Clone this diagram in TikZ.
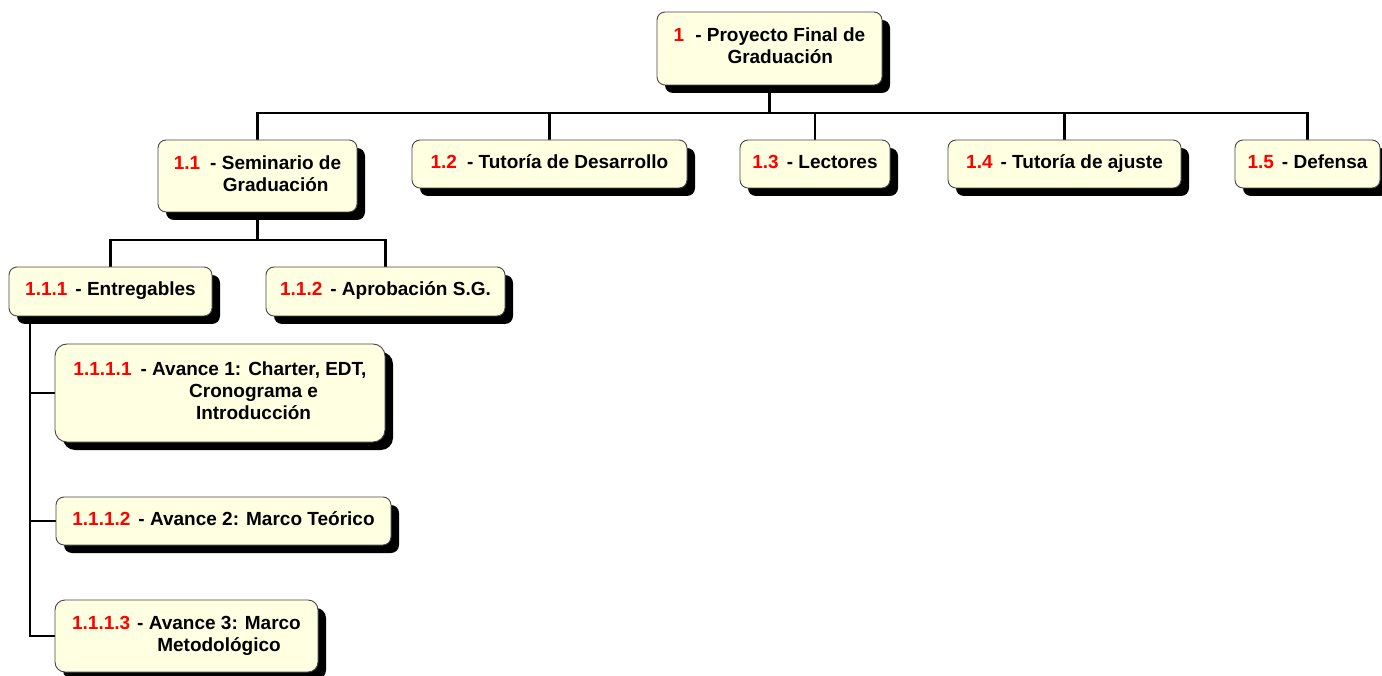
\documentclass[tikz,border=0pt]{standalone}
\usepackage{fontspec}
\setmainfont{Liberation Sans}
\usetikzlibrary{shadows,backgrounds}

\definecolor{boxfill}{RGB}{255,255,226}
\definecolor{boxline}{RGB}{70,70,70}
\definecolor{numred}{RGB}{255,0,0}

% label: red code number followed by a centred block of text
\newcommand\wbs[3][9pt]{{\color{numred}#2}\hspace{#1}\begin{tabular}[t]{@{}c@{}}#3\end{tabular}}

\tikzset{
  wbsbox/.style={
    draw=boxline, line width=0.9pt, fill=boxfill,
    rounded corners=8pt, inner sep=0pt, align=center,
    font=\bfseries\fontsize{19}{22}\selectfont,
    drop shadow={shadow xshift=8pt, shadow yshift=-8pt, opacity=1, fill=black}
  },
  link/.style={line width=2.9pt, draw=black}
}

\begin{document}
\begin{tikzpicture}[x=1pt,y=-1pt]
\useasboundingbox (0,0) rectangle (1382,676);

% work packages
\node[wbsbox, minimum width=225pt, minimum height=73pt] (root) at (769.5,48.5)
  {\wbs[11pt]{1}{- Proyecto Final de\\Graduación}};
\node[wbsbox, minimum width=199pt, minimum height=72pt] (b11) at (257.5,176)
  {\wbs[10pt]{1.1}{- Seminario de\\Graduación}};
\node[wbsbox, minimum width=275pt, minimum height=48pt] (b12) at (549.5,164)
  {\wbs[10pt]{1.2}{- Tutoría de Desarrollo}};
\node[wbsbox, minimum width=150pt, minimum height=48pt] (b13) at (815,164)
  {\wbs[8pt]{1.3}{- Lectores}};
\node[wbsbox, minimum width=233pt, minimum height=48pt] (b14) at (1064.5,164)
  {\wbs[8pt]{1.4}{- Tutoría de ajuste}};
\node[wbsbox, minimum width=145pt, minimum height=48pt] (b15) at (1307.5,164)
  {\wbs[8pt]{1.5}{- Defensa}};
\node[wbsbox, minimum width=203pt, minimum height=49pt] (b111) at (110.5,291.5)
  {\wbs[8pt]{1.1.1}{- Entregables}};
\node[wbsbox, minimum width=239pt, minimum height=49pt] (b112) at (385.5,291.5)
  {\wbs[8pt]{1.1.2}{- Aprobación S.G.}};
\node[wbsbox, minimum width=330pt, minimum height=98pt, rounded corners=12pt] (b1111) at (220,393)
  {\wbs[9pt]{1.1.1.1}{- Avance 1: Charter, EDT,\\Cronograma e\\Introducción}};
\node[wbsbox, minimum width=335pt, minimum height=48pt] (b1112) at (223.5,521)
  {\wbs[8pt]{1.1.1.2}{- Avance 2: Marco Teórico}};
\node[wbsbox, minimum width=263pt, minimum height=72pt, rounded corners=10pt] (b1113) at (186.5,636)
  {\wbs[7pt]{1.1.1.3}{- Avance 3: Marco\\Metodológico}};

% bus lines
\coordinate (bus1) at (769.5,113);
\coordinate (bus2) at (257.5,240);
\coordinate (spine) at (30,0);

\begin{pgfonlayer}{background}
  \draw[link] (root.south) -- (bus1);
  \draw[link] (b11.north) |- (bus1) -| (b15.north);
  \draw[link] (b12.north) -- (b12.north |- bus1);
  \draw[link] (b13.north) -- (b13.north |- bus1);
  \draw[link] (b14.north) -- (b14.north |- bus1);

  \draw[link] (b11.south) -- (bus2);
  \draw[link] (b111.north) |- (bus2) -| (b112.north);

  \draw[link] (spine |- b111.south) -- (spine |- b1113.west) -- (b1113.west);
  \draw[link] (spine |- b1111.west) -- (b1111.west);
  \draw[link] (spine |- b1112.west) -- (b1112.west);
\end{pgfonlayer}
\end{tikzpicture}
\end{document}
